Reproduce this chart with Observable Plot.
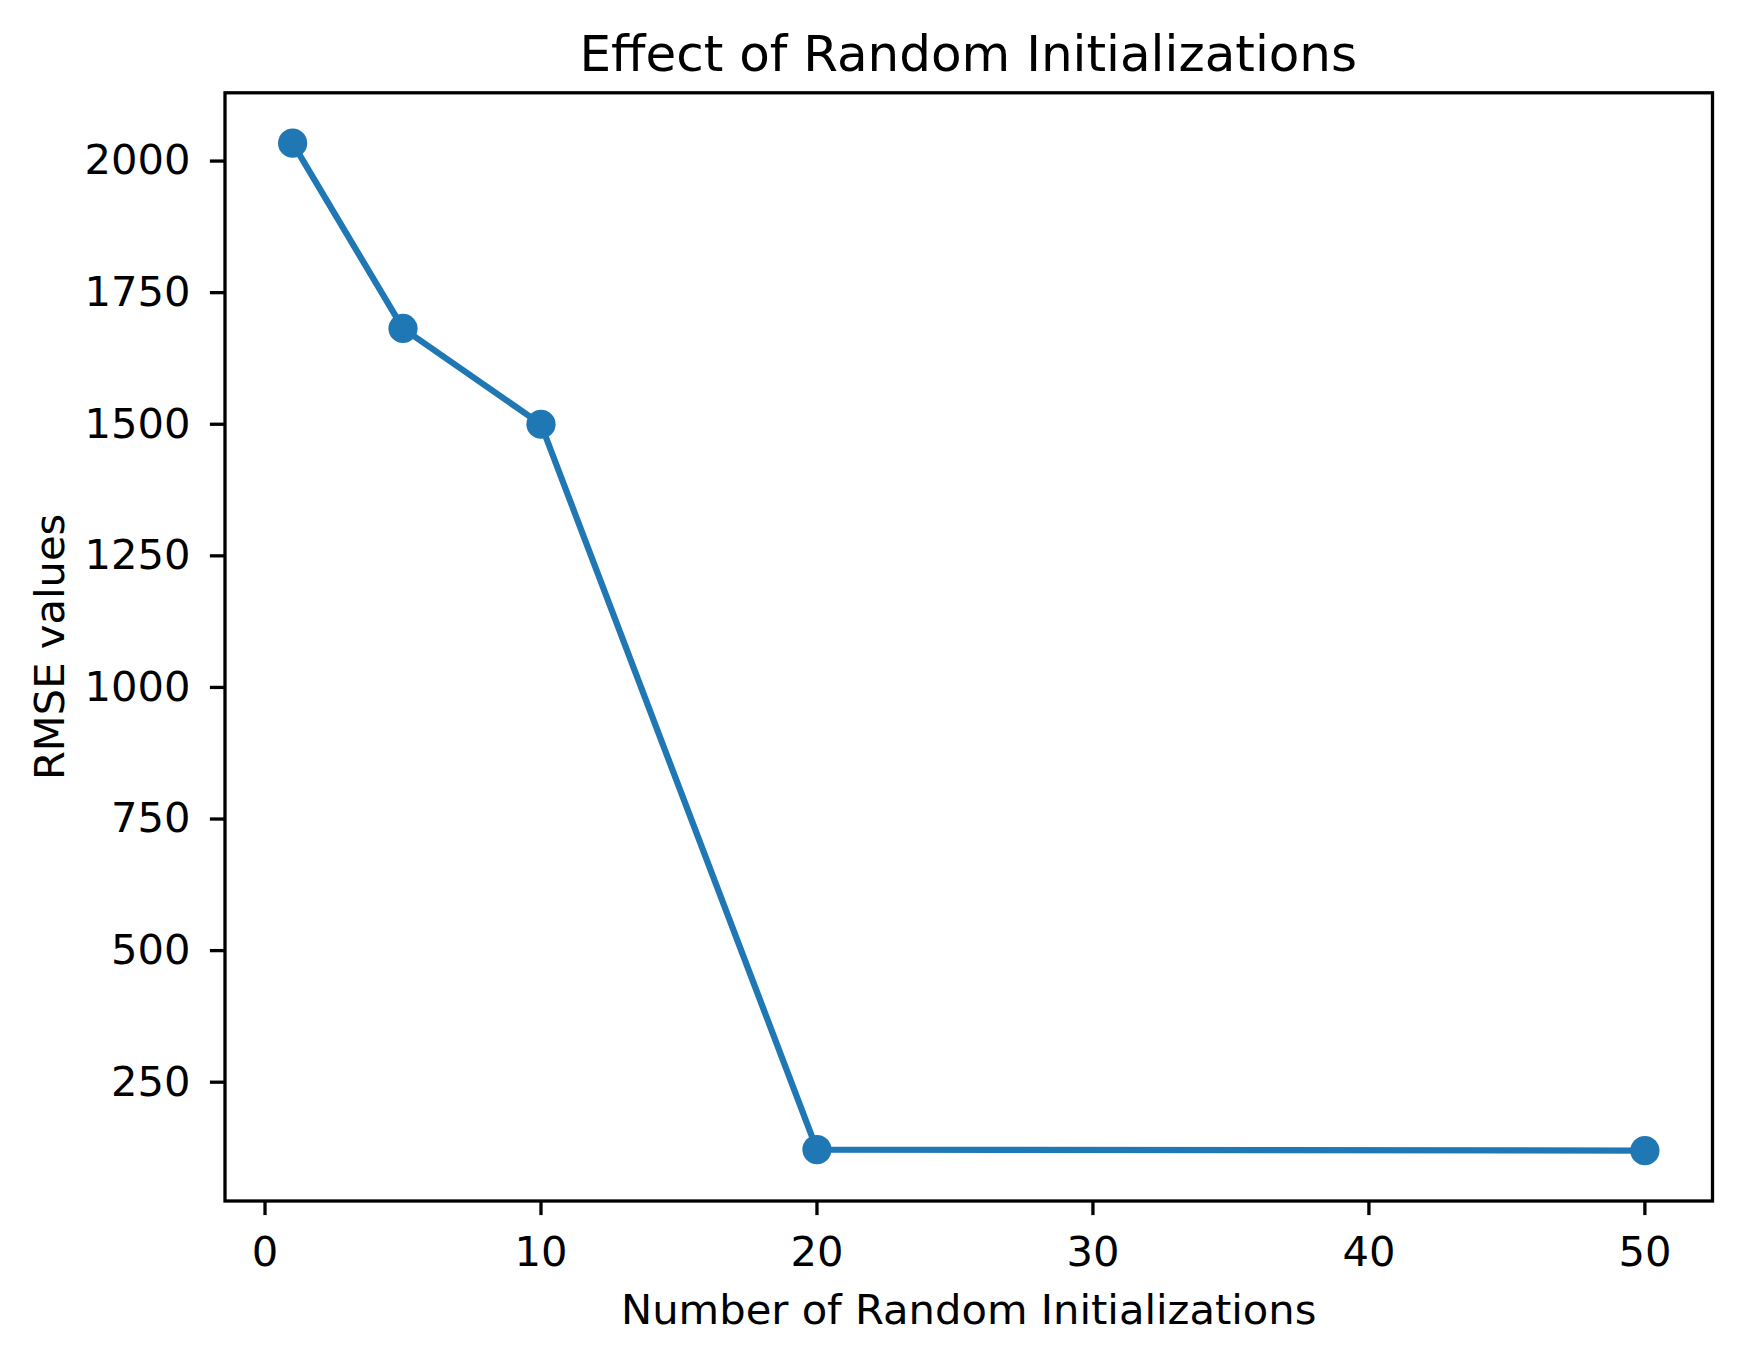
<!DOCTYPE html>
<html><head><meta charset="utf-8">
<script src="https://cdn.jsdelivr.net/npm/d3@7"></script>
<script src="https://cdn.jsdelivr.net/npm/@observablehq/plot@0.6"></script>
<style>
body{margin:0;background:#fff;font-family:"DejaVu Sans",sans-serif;}
#title{margin-left:224.5px;width:1487.5px;text-align:center;font-size:50px;line-height:58px;height:58px;padding-top:25px;color:#000;white-space:nowrap;}
#chart svg{display:block;}
</style></head><body>
<div id="title"></div>
<div id="chart"></div>
<script>
const initializations = [1, 5, 10, 20, 50];
const rmseValues = [2034, 1682, 1500, 122, 120];
const xTicks = [0, 10, 20, 30, 40, 50];
const yTicks = [250, 500, 750, 1000, 1250, 1500, 1750, 2000];
const titleText = "Effect of Random Initializations";
const xLabel = "Number of Random Initializations";
const yLabel = "RMSE values";

document.getElementById("title").textContent = titleText;

const data = initializations.map((x, i) => ({x, y: rmseValues[i]}));

function padded(vals) {
  const lo = d3.min(vals), hi = d3.max(vals), m = (hi - lo) * 0.05;
  return [lo - m, hi + m];
}

const color = "#1f77b4";
const fs = 41.67;

const chart = Plot.plot({
  width: 1741,
  height: 1278,
  marginLeft: 224.5,
  marginRight: 29,
  marginTop: 9.3,
  marginBottom: 160.5,
  style: {fontFamily: "DejaVu Sans, sans-serif", fontSize: fs + "px", color: "#000", background: "#fff", overflow: "visible"},
  x: {domain: padded(initializations)},
  y: {domain: padded(rmseValues)},
  marks: [
    Plot.line(data, {x: "x", y: "y", stroke: color, strokeWidth: 6.25}),
    Plot.dot(data, {x: "x", y: "y", r: 14.6, fill: color, stroke: null}),
    Plot.frame({stroke: "#000", strokeWidth: 3.3}),
    Plot.axisX({ticks: xTicks, tickSize: 14.6, tickPadding: 21, strokeWidth: 3.3, label: null, tickFormat: d => String(d), fontSize: fs}),
    Plot.axisY({ticks: yTicks, tickSize: 14.6, tickPadding: 20, strokeWidth: 3.3, label: null, tickFormat: d => String(d), fontSize: fs}),
    Plot.text([xLabel], {frameAnchor: "bottom", text: d => d, lineAnchor: "bottom", textAnchor: "middle", dy: 122.5, fontSize: fs, fill: "#000"}),
    Plot.text([yLabel], {frameAnchor: "left", text: d => d, rotate: -90, lineAnchor: "bottom", textAnchor: "middle", dx: -161.5, fontSize: fs, fill: "#000"})
  ]
});
document.getElementById("chart").appendChild(chart);
</script>
</body></html>
